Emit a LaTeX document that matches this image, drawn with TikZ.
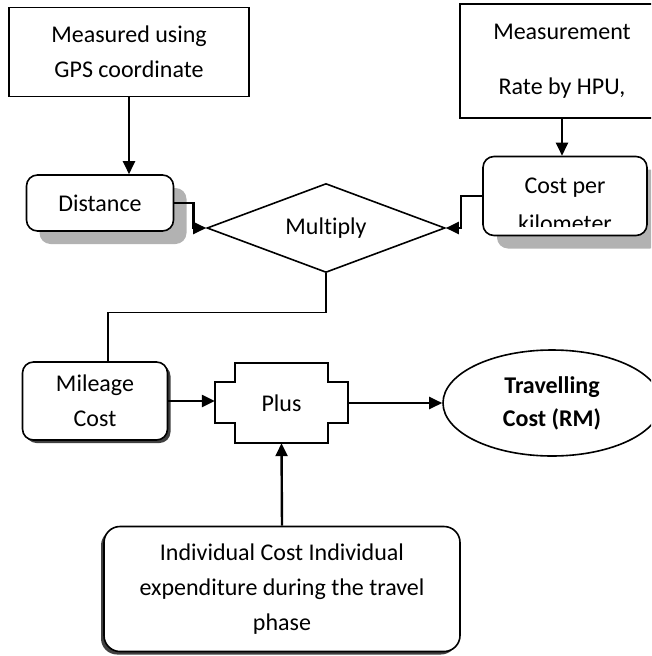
\documentclass[tikz,border=0pt]{standalone}
\usepackage{fontspec}
\setmainfont[Ligatures=CommonOff]{Carlito}
\usetikzlibrary{shapes.geometric,shadows,arrows.meta}

\tikzset{%
          every box/.style={
            rectangle,
            draw,
            fill=white,
            line width=1.6pt,
            align=center,
            font=\fontsize{24}{35}\selectfont
          },
          round box/.style={
            every box,
            rounded corners=11pt
          },
          light shadow/.style={
            drop shadow={shadow xshift=#1, shadow yshift=-13pt, fill=black!30, opacity=1}
          },
          dark shadow/.style={
            drop shadow={shadow xshift=#1, shadow yshift=-3pt, fill=black!75, opacity=1}
          },
          box text/.style={
            align=center,
            font=\fontsize{24}{35}\selectfont
          },
          flow/.style={
            draw,
            line width=2.4pt,
            -{Triangle[length=13pt,width=12pt]}
          },
        }

\begin{document}
\begin{tikzpicture}[x=1pt, y=-1pt]
        \clip (0,0) rectangle (651,656);

        \node [every box, minimum width=240pt, minimum height=89pt] (gps) at (129,52) {Measured using\\GPS coordinate};
        \node [every box, minimum width=204pt, minimum height=114pt] (hpu) at (562,61) {Measurement\\[20pt]Rate by HPU,};

        \node [round box, light shadow=13pt, minimum width=147pt, minimum height=56pt] (dist) at (100,203) {Distance};
        \node [round box, light shadow=14pt, minimum width=164pt, minimum height=79pt] (cpk) at (565,196) {};
        \begin{scope}
          \clip (486,160) rectangle (644,226);
          \node [box text, font=\fontsize{24}{38}\selectfont] (cpk-text) at (565,204.5) {Cost per\\kilometer};
        \end{scope}

        \node [diamond, draw, fill=white, line width=1.6pt, aspect=2.67, inner sep=0pt,
               minimum width=238pt, minimum height=89pt, box text] (mult) at (326,228) {Multiply};

        \node [round box, dark shadow=3pt, minimum width=145pt, minimum height=78pt] (mile) at (95,401) {Mileage\\Cost};
        \node [box text, inner sep=0pt, minimum width=133pt, minimum height=80pt] (plus) at (281.5,403) {Plus};
        \path [draw, line width=1.6pt] (235,363) -- (328,363) -- (328,382) -- (348,382) -- (348,423) -- (328,423)
              -- (328,443) -- (235,443) -- (235,423) -- (215,423) -- (215,382) -- (235,382) -- cycle;
        \node [ellipse, draw, line width=1.6pt, align=center, minimum width=218pt, minimum height=106pt,
               font=\fontsize{24}{33}\selectfont\bfseries] (cost) at (552,403) {Travelling\\Cost (RM)};

        \node [round box, dark shadow=-3pt, rounded corners=16pt, minimum width=356pt, minimum height=125pt] (indiv) at (282,589)
              {Individual Cost Individual\\expenditure during the travel\\phase};

        \path [flow] (gps.south) -- (gps.south |- dist.north);
        \path [flow] (hpu.south) -- (hpu.south |- cpk.north);
        \path [flow] (dist.east) -- ++(19,0) |- (mult.west);
        \path [flow] (cpk.west) -- ++(-21,0) |- (mult.east);
        \path [draw, line width=1.4pt] (mult.south) -- ++(0,39) -| ([xshift=13pt]mile.north);
        \path [flow] (mile.east) -- (mile.east -| plus.west);
        \path [flow] (plus.east) -- (cost.west);
        \path [flow] (indiv.north) -- (plus.south);

        \end{tikzpicture}
\end{document}
